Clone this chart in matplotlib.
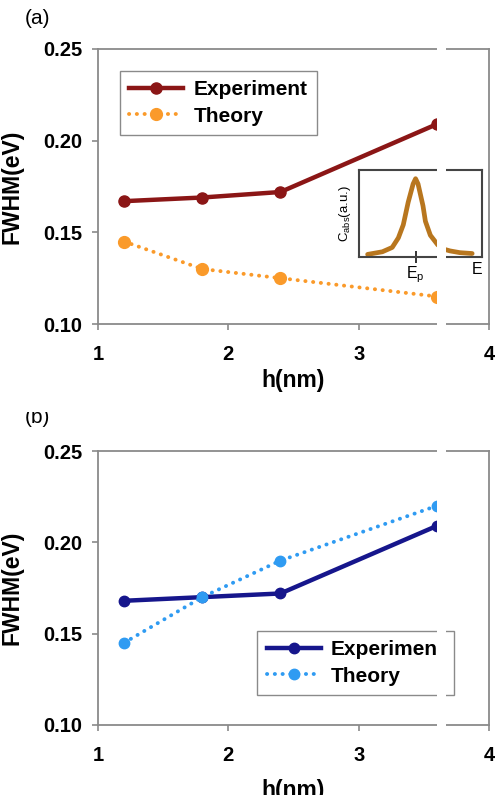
import numpy as np
import matplotlib
matplotlib.use('Agg')
from matplotlib import pyplot as plt
from matplotlib.patches import Rectangle

plt.rcParams['font.family'] = ['Liberation Sans', 'DejaVu Sans']

# ---- data ----
h = [1.2, 1.8, 2.4, 3.6]
exp_a = [0.167, 0.169, 0.172, 0.209]
theory_a = [0.145, 0.130, 0.125, 0.115]
exp_b = [0.168, 0.170, 0.172, 0.209]
theory_b = [0.145, 0.170, 0.190, 0.220]

x_ticks = [1, 2, 3, 4]
y_ticks = [0.10, 0.15, 0.20, 0.25]
y_tick_labels = ['0.10', '0.15', '0.20', '0.25']

# inset absorption curve (arbitrary units)
inset_x = [0.07, 0.19, 0.27, 0.32, 0.36, 0.40, 0.44, 0.46, 0.48, 0.52,
           0.54, 0.58, 0.64, 0.69, 0.74, 0.82, 0.92]
inset_y = [0.03, 0.06, 0.11, 0.22, 0.37, 0.63, 0.84, 0.90, 0.84, 0.59,
           0.41, 0.25, 0.14, 0.09, 0.07, 0.05, 0.04]
inset_peak = 0.46

W, H = 497, 795
fig = plt.figure(figsize=(W / 100, H / 100), dpi=100)

spine_c = '#8a8a8a'
dots = (0, (0.05, 1.95))


def style_axes(ax):
    ax.set_xlim(1, 4)
    ax.set_ylim(0.10, 0.25)
    ax.set_xticks(x_ticks)
    ax.set_yticks(y_ticks)
    ax.set_yticklabels(y_tick_labels)
    for s in ax.spines.values():
        s.set_color(spine_c)
        s.set_linewidth(1.3)
    ax.tick_params(axis='both', direction='out', length=4, width=1.2, color=spine_c,
                   labelsize=14.5)
    ax.tick_params(axis='x', pad=11)
    ax.tick_params(axis='y', pad=7)
    for lab in ax.get_xticklabels() + ax.get_yticklabels():
        lab.set_fontweight('bold')
    ax.set_xlabel('h(nm)', fontsize=16.5, fontweight='bold')
    ax.set_ylabel('FWHM(eV)', fontsize=16.5, fontweight='bold')
    ax.yaxis.set_label_coords(-0.19, 0.5)


def add_legend(ax, anchor):
    leg = ax.legend(loc='upper left', bbox_to_anchor=anchor, borderaxespad=0,
                    fancybox=False, framealpha=1, edgecolor=spine_c,
                    prop={'weight': 'bold', 'size': 15}, handlelength=2.6,
                    handletextpad=0.5, labelspacing=0.35, borderpad=0.45)
    leg.get_frame().set_linewidth(1.0)
    return leg


# ===== (a) =====
ax1 = fig.add_axes([98 / W, 1 - 324 / H, 391 / W, 275 / H])
ax1.plot(h, exp_a, '-o', color='#8B1616', lw=3.2, ms=8, label='Experiment')
ax1.plot(h, theory_a, linestyle=dots, marker='o', color='#FA9A2A',
         lw=2.8, ms=8.5, label='Theory', dash_capstyle='round')
style_axes(ax1)
ax1.xaxis.set_label_coords(0.5, -0.165)
add_legend(ax1, (0.056, 0.92))

# inset
axi = fig.add_axes([359 / W, 1 - 257 / H, 123 / W, 87 / H])
axi.plot(inset_x, inset_y, color='#B8761E', lw=3.4, solid_joinstyle='round',
         solid_capstyle='round')
axi.set_xlim(0, 1)
axi.set_ylim(0, 1)
for s in axi.spines.values():
    s.set_color('#444444')
    s.set_linewidth(1.5)
axi.set_yticks([])
axi.set_xticks([inset_peak])
axi.set_xticklabels([r'E$_\mathregular{p}$'], fontsize=11.5)
axi.tick_params(axis='x', direction='inout', length=9, width=1.4, color='#333333', pad=1)
axi.text(0.96, -0.06, 'E', transform=axi.transAxes, ha='center', va='top', fontsize=11.5)
axi.set_ylabel(r'C$_\mathregular{abs}$(a.u.)', fontsize=9.5, labelpad=4)

fig.text(37 / W, 1 - 18 / H, '(a)', fontsize=15, ha='center', va='center')

# ===== (b) =====
ax2 = fig.add_axes([98 / W, 1 - 725 / H, 391 / W, 274 / H])
ax2.plot(h, exp_b, '-o', color='#16168C', lw=3.2, ms=7.5, label='Experiment')
ax2.plot(h, theory_b, linestyle=dots, marker='o', color='#2F9BF2',
         lw=2.8, ms=7.5, label='Theory', dash_capstyle='round')
style_axes(ax2)
ax2.xaxis.set_label_coords(0.5, -0.198)
add_legend(ax2, (0.407, 0.343))

fig.text(37 / W, 1 - 423 / H, '(b)', fontsize=15, ha='center', va='baseline')

# white strips seen in the scanned figure
fig.add_artist(Rectangle((437 / W, 0), 9 / W, 1, transform=fig.transFigure,
                         facecolor='white', edgecolor='none', zorder=10))
fig.add_artist(Rectangle((0, 1 - 412 / H), 0.3, 16 / H, transform=fig.transFigure,
                         facecolor='white', edgecolor='none', zorder=10))

fig.savefig('out.png', dpi=100)
